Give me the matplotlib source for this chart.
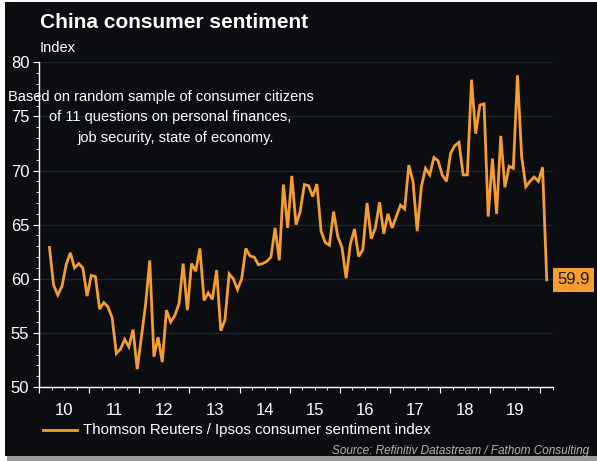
import numpy as np
import matplotlib
matplotlib.use("Agg")
import matplotlib.pyplot as plt
from matplotlib.patches import Rectangle
import matplotlib.transforms as mtransforms

# monthly index, Mar 2010 - Feb 2020
start_year = 2010
start_month = 3
sentiment = [
    62.9, 59.4, 58.5, 59.3, 61.3, 62.4, 61.0, 61.4, 61.0, 58.4,
    60.3, 60.2, 57.2, 57.8, 57.4, 56.4, 53.1, 53.5, 54.4, 53.7, 55.3, 51.65,
    54.6, 57.6, 61.7, 52.8, 54.6, 52.3, 57.1, 56.0, 56.6, 57.7, 61.4, 57.1,
    61.4, 60.7, 62.8, 58.0, 58.7, 58.1, 60.8, 55.2, 56.2, 60.45, 60.0, 59.0,
    60.0, 62.8, 62.1, 62.0, 61.3, 61.4, 61.6, 62.0, 64.7, 61.7, 68.7, 64.7,
    69.5, 65.0, 66.2, 68.7, 68.6, 67.6, 68.75, 64.4, 63.35, 63.1, 66.2, 63.9,
    62.9, 60.05, 63.2, 64.6, 62.05, 62.7, 67.0, 63.7, 64.7, 67.07, 64.15, 66.0,
    64.7, 65.75, 66.8, 66.45, 70.5, 69.0, 64.4, 68.5, 70.2, 69.6, 71.2, 70.9,
    69.6, 69.0, 71.6, 72.3, 72.6, 69.6, 69.6, 78.4, 73.4, 76.05, 76.15, 65.75,
    71.1, 66.0, 73.2, 68.45, 70.4, 70.2, 78.8, 71.3, 68.5, 69.0, 69.4, 69.0,
    70.3, 59.9,
]
year_labels = ["10", "11", "12", "13", "14", "15", "16", "17", "18", "19"]

bg = "#0b0d11"
orange = "#f69d30"
grid_col = "#1c2729"

months = np.arange(len(sentiment)) + (start_month - 1)
x = start_year + (months + 0.5) / 12.0

plt.rcParams["font.family"] = ["Liberation Sans", "DejaVu Sans"]

fig = plt.figure(figsize=(5.97, 4.61), dpi=100)
fig.patch.set_facecolor("white")
# panel with a soft shadow
fig.patches.append(Rectangle((7 / 597, 0), 590 / 597, 1 - 6 / 461, transform=fig.transFigure,
                             facecolor="#9a9a9a", edgecolor="none", zorder=-2))
fig.patches.append(Rectangle((5 / 597, 1 - 456 / 461), 592 / 597, 454 / 461, transform=fig.transFigure,
                             facecolor=bg, edgecolor="none", zorder=-1))

ax = fig.add_axes([39 / 597, 1 - 387 / 461, 514 / 597, 324.7 / 461])
ax.set_facecolor(bg)
ax.patch.set_alpha(0)

ax.plot(x, sentiment, color=orange, lw=2, solid_joinstyle="miter", zorder=3)

ax.set_ylim(50, 80)
ax.set_xlim(2010.156, 2020.233)

ax.set_yticks(np.arange(50, 81, 5))
ax.set_yticks(np.arange(50, 81, 1), minor=True)
ax.grid(axis="y", which="major", color=grid_col, lw=0.9)

years = np.arange(2010, 2021)
ax.set_xticks(years)
ax.set_xticklabels([""] * len(years))
quarters = np.arange(2010, 2020.3, 0.25)
qlabels = []
for q in quarters:
    yr = int(np.floor(q))
    if q - yr == 0.5 and yr - 2010 < len(year_labels):
        qlabels.append(year_labels[yr - 2010])
    else:
        qlabels.append("")
ax.set_xticks(quarters, minor=True)
ax.set_xticklabels(qlabels, minor=True)

for s in ["top", "right"]:
    ax.spines[s].set_visible(False)
for s in ["left", "bottom"]:
    ax.spines[s].set_color("white")
    ax.spines[s].set_linewidth(1.0)

ax.tick_params(axis="both", which="both", colors="white", labelcolor="white", labelsize=12)
ax.tick_params(axis="y", which="major", length=4, pad=3)
ax.tick_params(axis="y", which="minor", length=2)
ax.tick_params(axis="x", which="major", length=4.5)
ax.tick_params(axis="x", which="minor", length=2.5, pad=9)

# box that hides gridline behind the note
ax.add_patch(Rectangle((0, 0.795), 333 / 514, 0.06, transform=ax.transAxes,
                       facecolor=bg, edgecolor="none", zorder=1))

note = ["Based on random sample of consumer citizens",
        "of 11 questions on personal finances,",
        "job security, state of economy."]
note_x = [161, 170, 176]
note_y = [97, 117, 138]
for t, nx, ny in zip(note, note_x, note_y):
    fig.text(nx / 597, 1 - ny / 461, t, color="white", fontsize=10.5, ha="center", va="center")

# last value label
trans = mtransforms.blended_transform_factory(ax.transAxes, ax.transData)
ax.text(1.008, sentiment[-1], f"{sentiment[-1]:.1f}", transform=trans, ha="left", va="center",
        fontsize=12, color="#1a1a1a", clip_on=False,
        bbox=dict(boxstyle="square,pad=0.25", facecolor=orange, edgecolor="none"))

fig.text(40 / 597, 1 - 22 / 461, "China consumer sentiment", color="white", fontsize=15,
         fontweight="bold", ha="left", va="center")
fig.text(40 / 597, 1 - 48 / 461, "Index", color="white", fontsize=10.5, ha="left", va="center")

# legend
fig.lines.append(plt.Line2D([43 / 597, 77 / 597], [1 - 430 / 461, 1 - 430 / 461],
                            transform=fig.transFigure, color=orange, lw=2))
fig.text(83 / 597, 1 - 430 / 461, "Thomson Reuters / Ipsos consumer sentiment index",
         color="white", fontsize=10.8, ha="left", va="center")
fig.text(589 / 597, 1 - 451 / 461, "Source: Refinitiv Datastream / Fathom Consulting",
         color="#b4b4b4", fontsize=8.5, style="italic", ha="right", va="center")

fig.savefig("out.png", dpi=100, facecolor=fig.get_facecolor())
